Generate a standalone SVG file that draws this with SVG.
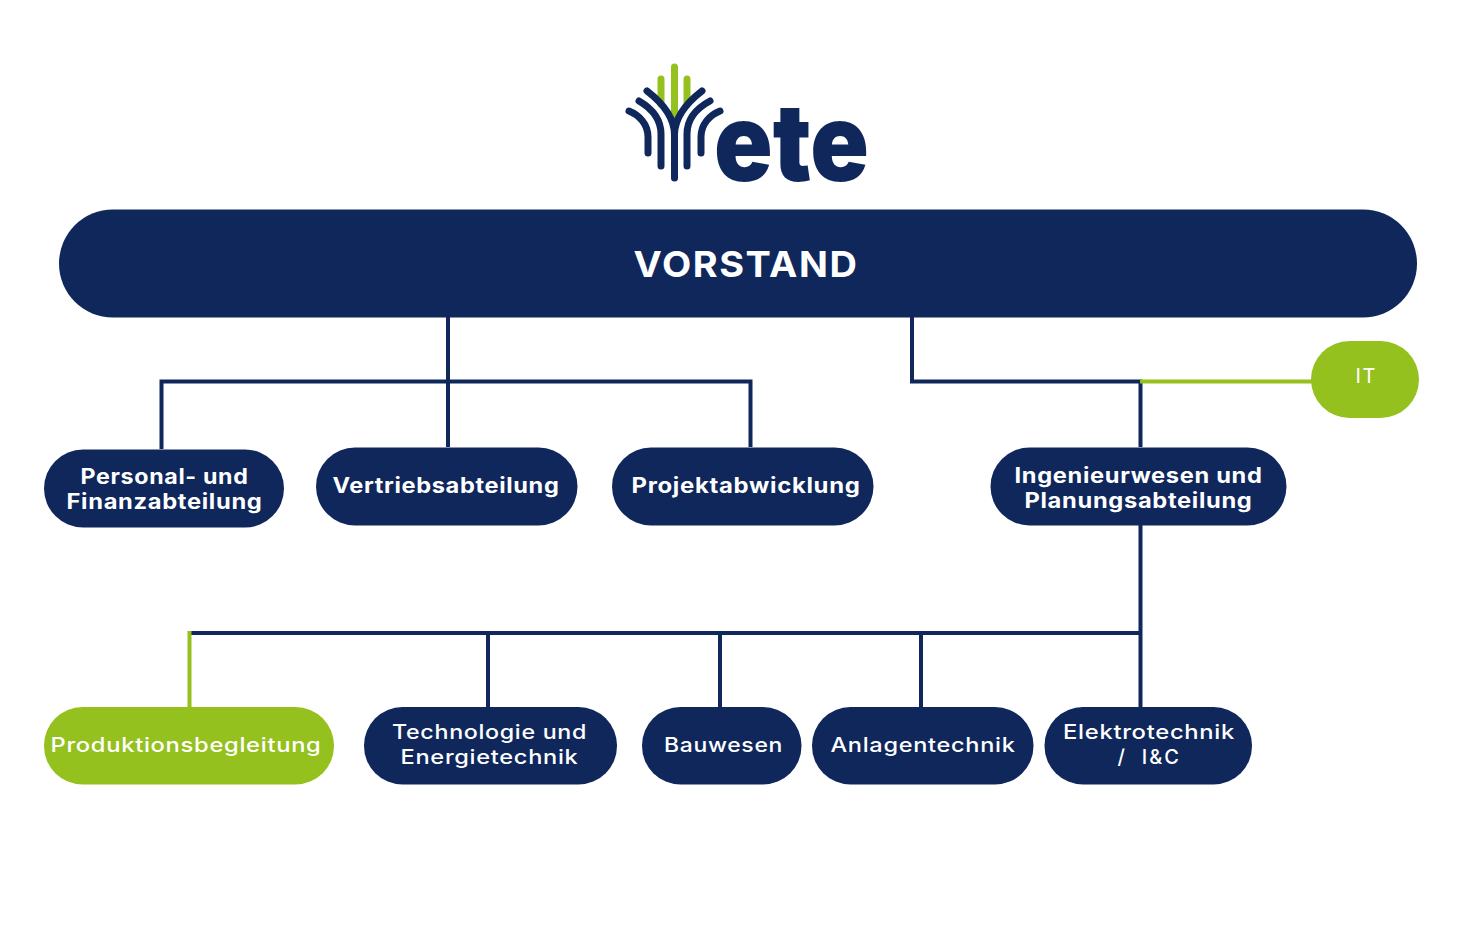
<svg xmlns="http://www.w3.org/2000/svg" width="1476" height="945" viewBox="0 0 1476 945">
<style>
.navy{fill:#10275c}.green{fill:#95c11f}
.c{fill:none;stroke:#10275c;stroke-width:4}
.g{fill:none;stroke:#95c11f;stroke-width:4}
.ln{fill:none;stroke:#10275c;stroke-width:7;stroke-linecap:round}
.lg{fill:none;stroke:#95c11f;stroke-width:7;stroke-linecap:round}
text{font-family:"Inter","Noto Sans",sans-serif;fill:#fff;text-anchor:middle}
.b{font-weight:700;font-size:21px;letter-spacing:.6px}
.r{font-weight:500;font-size:20px;letter-spacing:.6px}
.logo{font-family:"Inter",sans-serif;font-weight:900;font-size:108px;fill:#10275c}
</style>
<rect width="1476" height="945" fill="#fff"/>
<g id="logo">
<path class="lg" d="M674.500 67V116M661 79V104M687 79V104"/>
<path class="ln" d="M674.500 178V135C674.500 115 660 101 647 91M674.500 135C674.500 115 689 101 702 91"/>
<path class="ln" d="M648 153V137C648 124 639 115 629 111M701 153V137C701 124 710 115 720 111"/>
<path class="ln" d="M661 166V134C661 119 651 108 639 101M687 166V134C687 119 697 108 710 101"/>
<text class="logo" x="791.500" y="181" textLength="155" lengthAdjust="spacingAndGlyphs">ete</text>
</g>
<g id="connectors">
<path class="c" d="M448 317V447M161.500 449V381.500H750.500V447"/>
<path class="c" d="M912 317V381.500H1140.500V447M1140.500 525V707M188 633H1140.500M488 633V707M720 633V707M921 633V707"/>
<path class="g" d="M1140 381.500H1312M189.500 631V707"/>
</g>
<g id="vorstand"><rect class="navy" x="59" y="209.500" width="1358" height="108" rx="54"/><text x="746" y="277" font-size="36" font-weight="700" letter-spacing="1.500" textLength="225" lengthAdjust="spacingAndGlyphs">VORSTAND</text></g>
<g id="it"><rect class="green" x="1311" y="341" width="108" height="77" rx="38.500"/><text x="1365.500" y="383" font-size="20" font-weight="400" textLength="20">IT</text></g>
<g id="personal"><rect class="navy" x="44" y="449.500" width="240" height="78" rx="39"/><text class="b" x="164.500" y="484" textLength="168" lengthAdjust="spacingAndGlyphs">Personal- und</text><text class="b" x="164.500" y="509" textLength="196" lengthAdjust="spacingAndGlyphs">Finanzabteilung</text></g>
<g id="vertrieb"><rect class="navy" x="316" y="447.500" width="261.500" height="78" rx="39"/><text class="b" x="446" y="493" textLength="227" lengthAdjust="spacingAndGlyphs">Vertriebsabteilung</text></g>
<g id="projekt"><rect class="navy" x="612" y="447.500" width="261.500" height="78" rx="39"/><text class="b" x="746" y="493" textLength="229" lengthAdjust="spacingAndGlyphs">Projektabwicklung</text></g>
<g id="ingenieur"><rect class="navy" x="990.500" y="447.500" width="296" height="78" rx="39"/><text class="b" x="1138.500" y="483" textLength="248" lengthAdjust="spacingAndGlyphs">Ingenieurwesen und</text><text class="b" x="1138.500" y="508" textLength="228" lengthAdjust="spacingAndGlyphs">Planungsabteilung</text></g>
<g id="produktion"><rect class="green" x="44" y="707" width="290" height="77.500" rx="38.500"/><text class="r" x="186" y="752" textLength="271" lengthAdjust="spacingAndGlyphs">Produktionsbegleitung</text></g>
<g id="technologie"><rect class="navy" x="364" y="707" width="253" height="77.500" rx="38.500"/><text class="r" x="489.500" y="739" textLength="195" lengthAdjust="spacingAndGlyphs">Technologie und</text><text class="r" x="489.500" y="764" textLength="178" lengthAdjust="spacingAndGlyphs">Energietechnik</text></g>
<g id="bauwesen"><rect class="navy" x="642" y="707" width="159.500" height="77.500" rx="38.500"/><text class="r" x="723.500" y="752" textLength="119" lengthAdjust="spacingAndGlyphs">Bauwesen</text></g>
<g id="anlagen"><rect class="navy" x="812" y="707" width="221.500" height="77.500" rx="38.500"/><text class="r" x="923" y="752" textLength="185" lengthAdjust="spacingAndGlyphs">Anlagentechnik</text></g>
<g id="elektro"><rect class="navy" x="1044.500" y="707" width="207.500" height="77.500" rx="38.500"/><text class="r" x="1149" y="739" textLength="172" lengthAdjust="spacingAndGlyphs">Elektrotechnik</text><text class="r" x="1148.500" y="764" textLength="62" lengthAdjust="spacing" xml:space="preserve">/  I&amp;C</text></g>
</svg>
